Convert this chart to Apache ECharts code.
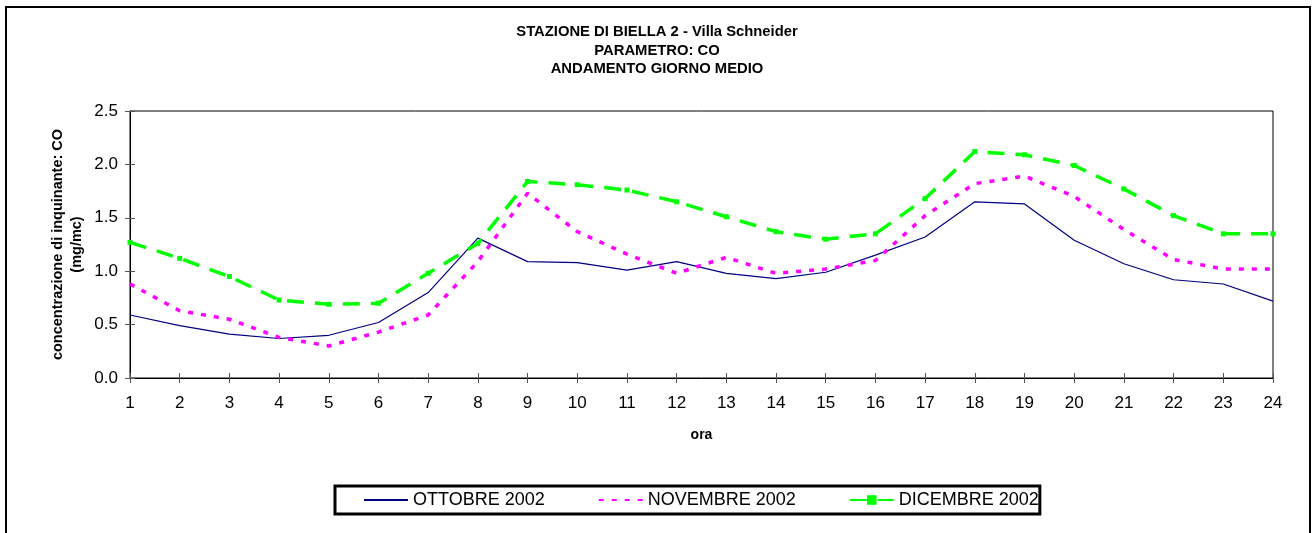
<!DOCTYPE html>
<html>
<head>
<meta charset="utf-8">
<script src="https://cdn.jsdelivr.net/npm/echarts@6/dist/echarts.min.js"></script>
<style>
html,body{margin:0;padding:0;background:#fff;}
#chart{width:1314px;height:533px;}
</style>
</head>
<body>
<div id="chart"></div>
<script>
var hours = ['1','2','3','4','5','6','7','8','9','10','11','12','13','14','15','16','17','18','19','20','21','22','23','24'];
var ottobre = [0.59,0.49,0.41,0.37,0.40,0.52,0.80,1.31,1.09,1.08,1.01,1.09,0.98,0.93,0.99,1.15,1.32,1.65,1.63,1.29,1.07,0.92,0.88,0.72];
var novembre = [0.88,0.63,0.55,0.38,0.30,0.43,0.59,1.09,1.73,1.37,1.16,0.98,1.13,0.98,1.02,1.10,1.52,1.82,1.89,1.70,1.39,1.11,1.02,1.02];
var dicembre = [1.27,1.12,0.95,0.73,0.69,0.70,0.98,1.26,1.84,1.81,1.76,1.65,1.51,1.37,1.30,1.35,1.68,2.12,2.09,1.99,1.77,1.52,1.35,1.35];
var yTicks = [0, 0.5, 1.0, 1.5, 2.0, 2.5];
var seriesNames = ['OTTOBRE 2002','NOVEMBRE 2002','DICEMBRE 2002'];

var FONT = '"Liberation Sans", Arial, sans-serif';
var chart = echarts.init(document.getElementById('chart'), null, {renderer:'canvas'});
chart.setOption({
  animation: false,
  backgroundColor: '#fff',
  title: {
    text: 'STAZIONE DI BIELLA 2 - Villa Schneider\nPARAMETRO: CO\nANDAMENTO GIORNO MEDIO',
    left: 'center', top: 18,
    textStyle: {fontFamily: FONT, fontSize: 14.8, fontWeight: 'bold', color: '#000', lineHeight: 18.5}
  },
  graphic: [{
    type: 'rect', silent: true,
    shape: {x: 6, y: 7, width: 1304, height: 600},
    style: {fill: 'none', stroke: '#000', lineWidth: 2}
  }],
  legend: {
    data: [
      {name: seriesNames[0], itemStyle: {opacity: 0}},
      {name: seriesNames[1], itemStyle: {opacity: 0}},
      {name: seriesNames[2]}
    ],
    left: 335, top: 486,
    orient: 'horizontal',
    itemWidth: 44, itemHeight: 12, itemGap: 53,
    padding: [5, 1, 5, 28],
    borderColor: '#000', borderWidth: 3,
    textStyle: {fontFamily: FONT, fontSize: 18, color: '#000'}
  },
  grid: {left: 130, right: 41, top: 111, bottom: 155, show: true, borderColor: '#000', borderWidth: 1},
  xAxis: [{
    type: 'category', data: hours, boundaryGap: false,
    name: 'ora', nameLocation: 'middle', nameGap: 50, nameMoveOverlap: false,
    nameTextStyle: {fontFamily: FONT, fontSize: 14, fontWeight: 'bold', color: '#000'},
    axisLine: {lineStyle: {color: '#000', width: 1}},
    axisTick: {show: true, interval: 0, length: 5, lineStyle: {color: '#555'}},
    axisLabel: {interval: 0, margin: 17, fontFamily: FONT, fontSize: 17, color: '#000'},
    splitLine: {show: false}
  },{
    type: 'category', data: hours, boundaryGap: false, position: 'bottom', gridIndex: 0,
    axisLine: {show: false},
    axisTick: {show: true, inside: true, interval: 0, length: 5, lineStyle: {color: '#555'}},
    axisLabel: {show: false}, splitLine: {show: false}
  }],
  yAxis: [{
    type: 'value', min: 0, max: 2.5, interval: 0.5,
    name: 'concentrazione di inquinante: CO\n(mg/mc)',
    nameLocation: 'middle', nameRotate: 90, nameGap: 44, nameMoveOverlap: false,
    nameTextStyle: {fontFamily: FONT, fontSize: 14.5, fontWeight: 'bold', color: '#000', lineHeight: 19},
    axisLine: {show: true, lineStyle: {color: '#000', width: 1}},
    axisTick: {show: true, length: 5, lineStyle: {color: '#555'}},
    axisLabel: {margin: 12, fontFamily: FONT, fontSize: 17, color: '#000',
      formatter: function(v){ return yTicks.indexOf(v) >= 0 ? v.toFixed(1) : ''; }},
    splitLine: {show: false}
  },{
    type: 'value', min: 0, max: 2.5, interval: 0.5, position: 'left', gridIndex: 0,
    axisLine: {show: false},
    axisTick: {show: true, inside: true, length: 5, lineStyle: {color: '#555'}},
    axisLabel: {show: false}, splitLine: {show: false}
  }],
  series: [{
    name: seriesNames[0], type: 'line', data: ottobre,
    symbol: 'none', color: '#000080',
    lineStyle: {color: '#000080', width: 1.2, type: 'solid'}
  },{
    name: seriesNames[1], type: 'line', data: novembre,
    symbol: 'none', color: '#FF00FF',
    lineStyle: {color: '#FF00FF', width: 3.5, type: [5, 8]}
  },{
    name: seriesNames[2], type: 'line', data: dicembre,
    symbol: 'rect', symbolSize: 5, showAllSymbol: true, color: '#00FF00',
    itemStyle: {color: '#00FF00'},
    lineStyle: {color: '#00FF00', width: 3.5, type: [17, 11]}
  }]
});
</script>
</body>
</html>
